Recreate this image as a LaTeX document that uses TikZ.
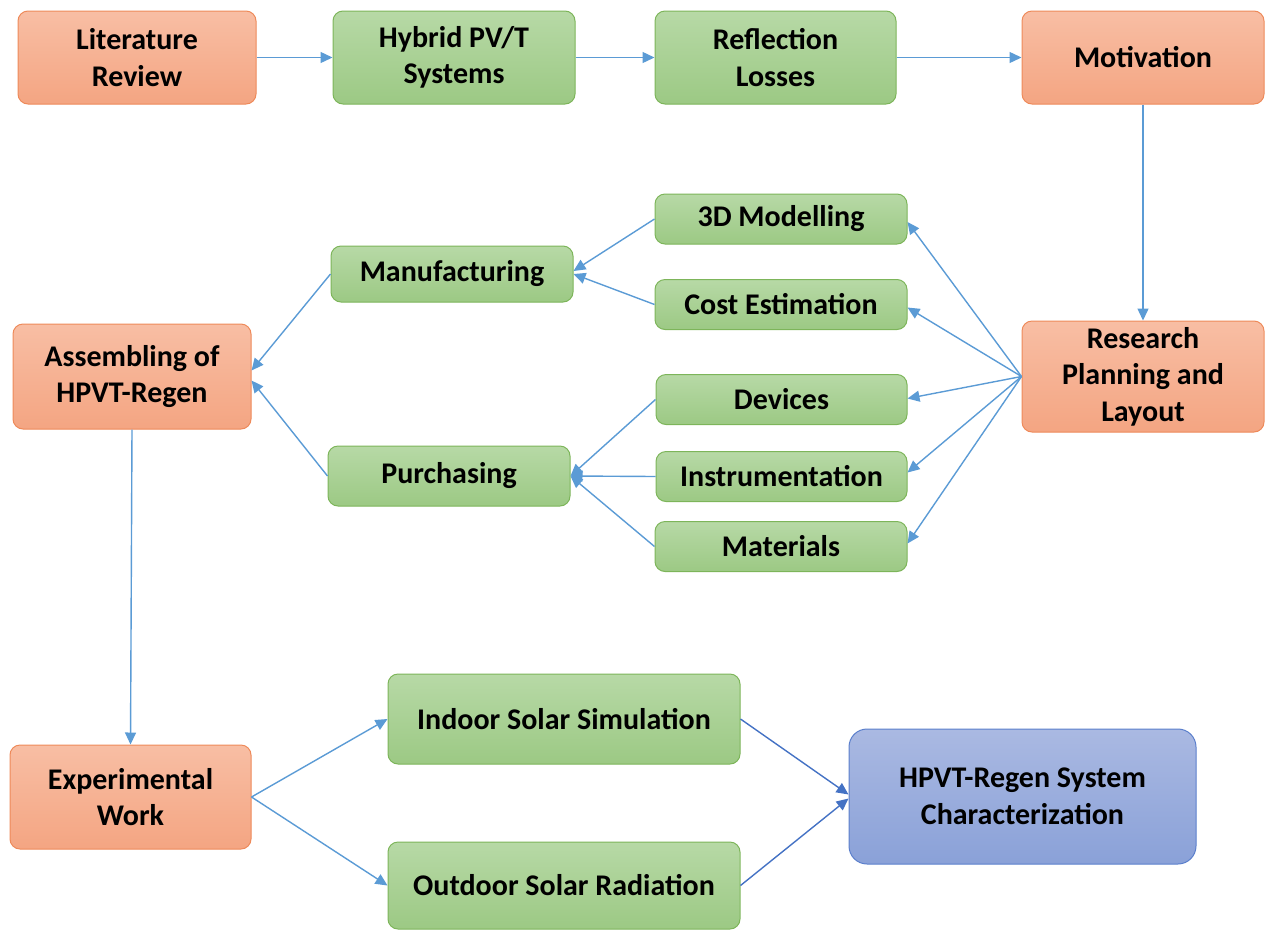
\documentclass[tikz,border=0pt]{standalone}
\usepackage{fontspec}
\setmainfont{Carlito}
\usetikzlibrary{arrows.meta,calc}
\definecolor{orT}{HTML}{F8BEA4}
\definecolor{orB}{HTML}{F4A582}
\definecolor{orD}{HTML}{EE8A5A}
\definecolor{grT}{HTML}{B7D9A6}
\definecolor{grB}{HTML}{9CC984}
\definecolor{grD}{HTML}{7DB55A}
\definecolor{blT}{HTML}{AAB9E2}
\definecolor{blB}{HTML}{8AA1D8}
\definecolor{blD}{HTML}{5B7FCC}
\definecolor{arr}{HTML}{5B9BD5}
\definecolor{arrD}{HTML}{4472C4}
\tikzset{
  box/.style={rounded corners=10pt, line width=1pt, align=center, inner sep=0pt,
    font=\fontsize{30}{36.5}\selectfont\bfseries, text=black},
  obox/.style={box, draw=orD, top color=orT, bottom color=orB},
  gbox/.style={box, draw=grD, top color=grT, bottom color=grB},
  bbox/.style={box, draw=blD, top color=blT, bottom color=blB, rounded corners=18pt},
  conn/.style={draw=arr, line width=1.4pt, -{Triangle[length=12pt,width=11pt]}},
  connD/.style={draw=arrD, line width=1.4pt, -{Triangle[length=12pt,width=11pt]}}
}
\begin{document}
\begin{tikzpicture}[x=1pt,y=-1pt]
\useasboundingbox (0,0) rectangle (1272,930);
% top row
\node[obox, minimum width=238pt, minimum height=93pt] (lit) at (137,57.5) {Literature\\Review};
\node[gbox, minimum width=242pt, minimum height=93pt] (hyb) at (454,57.5) {Hybrid PV/T\\Systems};
\node[gbox, minimum width=241pt, minimum height=93pt] (ref) at (775.5,57.5) {Reflection\\Losses};
\node[obox, minimum width=242pt, minimum height=93pt] (mot) at (1143,57.5) {Motivation};
% right
\node[obox, minimum width=242pt, minimum height=111pt] (res) at (1143,376.5) {Research\\Planning and\\Layout};
% middle column
\node[gbox, minimum width=252pt, minimum height=50pt] (m3d) at (781,219) {3D Modelling};
\node[gbox, minimum width=252pt, minimum height=50pt] (cost) at (781,304.5) {Cost Estimation};
\node[gbox, minimum width=251pt, minimum height=50pt] (dev) at (781.5,399.5) {Devices};
\node[gbox, minimum width=251pt, minimum height=50pt] (ins) at (781.5,476.5) {Instrumentation};
\node[gbox, minimum width=252pt, minimum height=50pt] (mat) at (781,546.5) {Materials};
% second column
\node[gbox, minimum width=242pt, minimum height=56pt] (man) at (452,274) {Manufacturing};
\node[gbox, minimum width=242pt, minimum height=60pt] (pur) at (449,476) {Purchasing};
% left
\node[obox, minimum width=238pt, minimum height=105pt] (asm) at (132,376.5) {Assembling of\\HPVT-Regen};
\node[obox, minimum width=241pt, minimum height=104pt] (exp) at (130.5,797) {Experimental\\Work};
% bottom
\node[gbox, minimum width=352pt, minimum height=90pt] (ind) at (564,719) {Indoor Solar Simulation};
\node[gbox, minimum width=352pt, minimum height=87pt] (out) at (564,885.5) {Outdoor Solar Radiation};
\node[bbox, minimum width=347pt, minimum height=135pt] (chr) at (1022.5,796.5) {HPVT-Regen System\\Characterization};
% connectors
\draw[conn] (lit.east) -- (hyb.west);
\draw[conn] (hyb.east) -- (ref.west);
\draw[conn] (ref.east) -- (mot.west);
\draw[conn] (mot.south) -- (res.north);
\draw[conn] (res.west) -- ($(m3d.east)+(0,3)$);
\draw[conn] (res.west) -- ($(cost.east)+(0,3)$);
\draw[conn] (res.west) -- ($(dev.east)+(0,-1)$);
\draw[conn] (res.west) -- ($(ins.east)+(0,-4)$);
\draw[conn] (res.west) -- ($(mat.east)+(0,-3)$);
\draw[conn] (m3d.west) -- ($(man.east)+(0,-3)$);
\draw[conn] (cost.west) -- ($(man.east)+(0,0)$);
\draw[conn] (dev.west) -- (pur.east);
\draw[conn] (ins.west) -- (pur.east);
\draw[conn] (mat.west) -- (pur.east);
\draw[conn] (man.west) -- ($(asm.east)+(0,-6)$);
\draw[conn] (pur.west) -- ($(asm.east)+(0,4)$);
\draw[conn] (asm.south) -- (exp.north);
\draw[conn] (exp.east) -- (ind.west);
\draw[conn] (exp.east) -- (out.west);
\draw[connD] (ind.east) -- ($(chr.west)+(0,-2)$);
\draw[connD] (out.east) -- ($(chr.west)+(0,2)$);
\end{tikzpicture}
\end{document}
